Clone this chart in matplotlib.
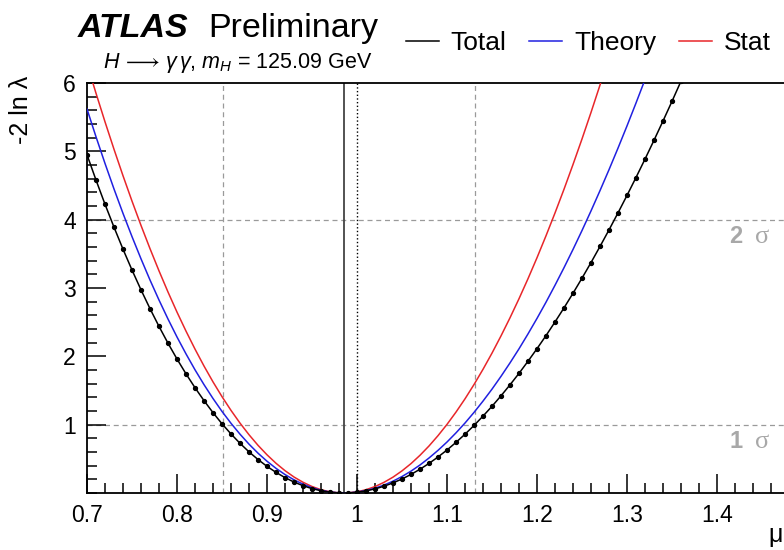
import numpy as np
import matplotlib
matplotlib.use('Agg')
import matplotlib.pyplot as plt
from matplotlib.ticker import MultipleLocator

plt.rcParams['font.family'] = ['Liberation Sans', 'DejaVu Sans']
plt.rcParams['mathtext.fontset'] = 'custom'
plt.rcParams['mathtext.rm'] = 'Liberation Sans'
plt.rcParams['mathtext.it'] = 'Liberation Sans:italic'

#scan points (mu) and -2 ln lambda
mu_total = [0.70, 0.71, 0.72, 0.73, 0.74, 0.75, 0.76, 0.77, 0.78, 0.79,
            0.80, 0.81, 0.82, 0.83, 0.84, 0.85, 0.86, 0.87, 0.88, 0.89,
            0.90, 0.91, 0.92, 0.93, 0.94, 0.95, 0.96, 0.97, 0.98, 0.99,
            1.00, 1.01, 1.02, 1.03, 1.04, 1.05, 1.06, 1.07, 1.08, 1.09,
            1.10, 1.11, 1.12, 1.13, 1.14, 1.15, 1.16, 1.17, 1.18, 1.19,
            1.20, 1.21, 1.22, 1.23, 1.24, 1.25, 1.26, 1.27, 1.28, 1.29,
            1.30, 1.31, 1.32, 1.33, 1.34, 1.35, 1.36]
nll_total = [4.950, 4.580, 4.226, 3.890, 3.568, 3.263, 2.973, 2.698, 2.438, 2.192,
             1.961, 1.744, 1.541, 1.352, 1.176, 1.013, 0.864, 0.727, 0.602, 0.490,
             0.390, 0.302, 0.225, 0.160, 0.107, 0.064, 0.033, 0.012, 0.001, 0.001,
             0.011, 0.031, 0.060, 0.099, 0.148, 0.205, 0.272, 0.348, 0.433, 0.527,
             0.629, 0.741, 0.860, 0.988, 1.125, 1.269, 1.422, 1.583, 1.751, 1.928,
             2.112, 2.303, 2.503, 2.709, 2.923, 3.144, 3.372, 3.608, 3.850, 4.099,
             4.355, 4.617, 4.886, 5.162, 5.444, 5.732, 6.027]

mu_theory = mu_total[:63]
nll_theory = [5.619, 5.213, 4.823, 4.449, 4.092, 3.752, 3.427, 3.117, 2.824, 2.546,
              2.283, 2.036, 1.803, 1.586, 1.383, 1.194, 1.020, 0.861, 0.715, 0.583,
              0.465, 0.361, 0.270, 0.193, 0.129, 0.078, 0.039, 0.014, 0.002, 0.001,
              0.013, 0.036, 0.070, 0.116, 0.173, 0.241, 0.320, 0.410, 0.512, 0.624,
              0.746, 0.880, 1.024, 1.179, 1.345, 1.520, 1.707, 1.904, 2.110, 2.328,
              2.555, 2.792, 3.040, 3.297, 3.564, 3.841, 4.128, 4.425, 4.731, 5.047,
              5.372, 5.707, 6.050]

mu_stat = mu_total[:59]
nll_stat = [6.283, 5.850, 5.432, 5.030, 4.643, 4.272, 3.916, 3.576, 3.251, 2.941,
            2.647, 2.369, 2.106, 1.858, 1.626, 1.410, 1.209, 1.023, 0.853, 0.698,
            0.559, 0.435, 0.327, 0.234, 0.157, 0.095, 0.048, 0.017, 0.002, 0.002,
            0.017, 0.048, 0.094, 0.156, 0.232, 0.324, 0.430, 0.552, 0.688, 0.839,
            1.004, 1.184, 1.378, 1.587, 1.810, 2.047, 2.299, 2.564, 2.843, 3.136,
            3.443, 3.764, 4.098, 4.445, 4.807, 5.181, 5.569, 5.970, 6.385]

mu_best = 0.986
mu_sm = 1.0
mu_1sigma = [0.851, 1.131]
sigma_levels = [1, 4]
sigma_names = ['1', '2']

fig = plt.figure(figsize=(7.84, 5.50), dpi=100)
ax = fig.add_axes([87/784, 57/550, 720/784, 410/550])

grey = '#9a9a9a'
for y in sigma_levels:
    ax.axhline(y, color=grey, ls=(0, (4, 3)), lw=0.9, zorder=1)
for x in mu_1sigma:
    ax.axvline(x, color=grey, ls=(0, (4, 3)), lw=0.9, zorder=1)
ax.axvline(mu_best, color='#444444', lw=1.3, zorder=2)
ax.axvline(mu_sm, color='black', ls=':', lw=1.0, zorder=2)

ax.plot(mu_stat, nll_stat, color='#e8262a', lw=1.1, label='Stat', zorder=3)
ax.plot(mu_theory, nll_theory, color='#2020e0', lw=1.1, label='Theory', zorder=3)
ax.plot(mu_total, nll_total, color='black', lw=1.1, marker='o', ms=2.8,
        label='Total', zorder=4)

for y, name in zip(sigma_levels, sigma_names):
    ax.text(1.414, y - 0.25, name, color='#a8a8a8', fontsize=17,
            fontweight='bold', va='center', ha='left')
    ax.text(1.442, y - 0.25, '\u03c3', color='#a8a8a8', fontsize=19,
            family='Liberation Serif', va='center', ha='left')

ax.set_xlim(0.7, 1.5)
ax.set_ylim(0, 6)
ax.xaxis.set_major_locator(MultipleLocator(0.1))
ax.xaxis.set_minor_locator(MultipleLocator(0.02))
ax.yaxis.set_major_locator(MultipleLocator(1))
ax.yaxis.set_minor_locator(MultipleLocator(0.2))
ax.set_xticks([0.7, 0.8, 0.9, 1.0, 1.1, 1.2, 1.3, 1.4])
ax.set_xticklabels(['0.7', '0.8', '0.9', '1', '1.1', '1.2', '1.3', '1.4'])
ax.set_yticks([1, 2, 3, 4, 5, 6])
ax.set_yticklabels(['1', '2', '3', '4', '5', '6'])
ax.tick_params(which='both', direction='in', labelsize=16.5, width=1.1)
ax.tick_params(which='major', length=14)
ax.tick_params(which='minor', length=7)
ax.tick_params(axis='x', pad=8)
ax.tick_params(axis='y', pad=8)
for s in ax.spines.values():
    s.set_linewidth(1.3)

fig.text(21/784, 1 - 76/550, '-2 ln \u03bb', rotation=90, fontsize=18,
         ha='center', va='top')
fig.text(768/784, 1 - 523/550, '\u03bc', fontsize=18, ha='left', va='top')

fig.text(78/784, 1 - 37/550, 'ATLAS', fontsize=24.5, fontweight='bold',
         style='italic', va='baseline')
fig.text(208/784, 1 - 37/550, 'Preliminary', fontsize=24.5, va='baseline')
fig.text(103/784, 1 - 68/550, r'$H\,\longrightarrow\,\gamma\,\gamma$, $m_H$ = 125.09 GeV',
         fontsize=15.5, va='baseline')

handles, labels = ax.get_legend_handles_labels()
order = [2, 1, 0]
fig.legend([handles[i] for i in order], [labels[i] for i in order],
           loc='center left', bbox_to_anchor=(406/784, 1 - 43/550), ncol=3,
           frameon=False, fontsize=19, handlelength=1.25, handletextpad=0.45,
           columnspacing=0.85, borderpad=0, borderaxespad=0)
for h in fig.legends[0].legend_handles:
    h.set_marker('')

fig.savefig('out.png', dpi=100)
